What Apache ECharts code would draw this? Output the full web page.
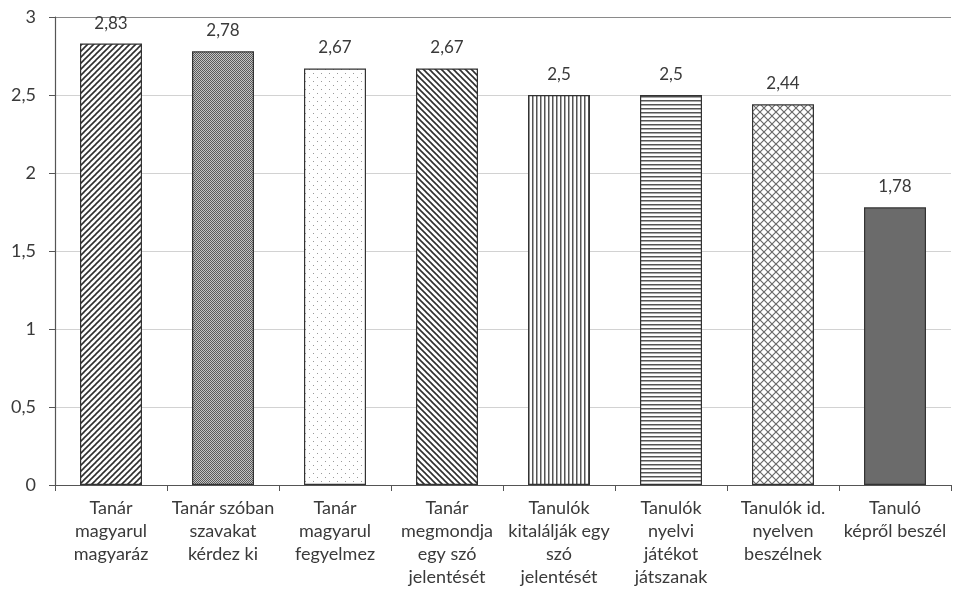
<!DOCTYPE html>
<html><head><meta charset="utf-8">
<script src="https://cdn.jsdelivr.net/npm/echarts@6/dist/echarts.min.js"></script>
<style>html,body{margin:0;padding:0;background:#fff}#c{width:954px;height:598px}</style>
</head><body><div id="c"></div>
<script>
const categories = [
  "Tanár\nmagyarul\nmagyaráz",
  "Tanár szóban\nszavakat\nkérdez ki",
  "Tanár\nmagyarul\nfegyelmez",
  "Tanár\nmegmondja\negy szó\njelentését",
  "Tanulók\nkitalálják egy\nszó\njelentését",
  "Tanulók\nnyelvi\njátékot\njátszanak",
  "Tanulók id.\nnyelven\nbeszélnek",
  "Tanuló\nképről beszél"
];
const values = [2.83, 2.78, 2.67, 2.67, 2.5, 2.5, 2.44, 1.78];
const yTicks = [0, 0.5, 1, 1.5, 2, 2.5, 3];

function tile(w, h, draw) {
  const c = document.createElement('canvas');
  c.width = w; c.height = h;
  const g = c.getContext('2d');
  g.fillStyle = '#fff'; g.fillRect(0, 0, w, h);
  draw(g);
  return { image: c, repeat: 'repeat' };
}
function diag(dir) {
  return tile(6, 6, g => {
    g.strokeStyle = '#2e2e2e'; g.lineWidth = 1.6;
    for (let k = -1; k <= 1; k++) {
      g.beginPath();
      if (dir > 0) { g.moveTo(-1 + k * 6, 7); g.lineTo(7 + k * 6, -1); }
      else { g.moveTo(-1 + k * 6, -1); g.lineTo(7 + k * 6, 7); }
      g.stroke();
    }
  });
}
const patterns = [
  diag(1),
  tile(2, 2, g => { g.fillStyle = '#5a5a5a'; g.fillRect(0, 0, 1, 1); g.fillRect(1, 1, 1, 1); g.fillStyle = '#c4c4c4'; g.fillRect(1, 0, 1, 1); g.fillRect(0, 1, 1, 1); }),
  tile(8, 8, g => { g.fillStyle = '#9a9a9a'; g.fillRect(1, 1, 1, 1); g.fillRect(5, 5, 1, 1); }),
  diag(-1),
  tile(4, 4, g => { g.fillStyle = '#555'; g.fillRect(0, 0, 1.5, 4); }),
  tile(4, 4, g => { g.fillStyle = '#555'; g.fillRect(0, 0, 4, 1.5); }),
  tile(8, 8, g => {
    g.strokeStyle = '#6a6a6a'; g.lineWidth = 1.2;
    g.beginPath(); g.moveTo(0, 0); g.lineTo(8, 8); g.moveTo(8, 0); g.lineTo(0, 8); g.stroke();
    g.beginPath(); g.moveTo(-4, 4); g.lineTo(4, 12); g.moveTo(4, -4); g.lineTo(12, 4);
    g.moveTo(-4, 4); g.lineTo(4, -4); g.moveTo(4, 12); g.lineTo(12, 4); g.stroke();
  }),
  '#6b6b6b'
];

const chart = echarts.init(document.getElementById('c'), null, { renderer: 'canvas' });
const font = 'Lato, "Open Sans", sans-serif';
chart.setOption({
  animation: false,
  grid: { left: 55, right: 3, top: 17, bottom: 113, containLabel: false },
  xAxis: {
    type: 'category', data: categories,
    axisLine: { lineStyle: { color: '#555', width: 1.2 } },
    axisTick: { show: true, length: 6, lineStyle: { color: '#555' } },
    axisLabel: { interval: 0, margin: 12, color: '#3a3a3a', fontSize: 18, lineHeight: 23, fontFamily: font }
  },
  yAxis: {
    type: 'value', min: 0, max: 3, interval: 0.5,
    axisLine: { show: true, lineStyle: { color: '#555', width: 1.2 } },
    axisTick: { show: true, length: 6, lineStyle: { color: '#555' } },
    splitLine: { lineStyle: { color: ['#d2d2d2','#d2d2d2','#d2d2d2','#d2d2d2','#d2d2d2','#d2d2d2','#8a8a8a'], width: 1.2 } },
    axisLabel: { margin: 19, color: '#3a3a3a', fontSize: 18, fontFamily: font,
      formatter: v => String(v).replace('.', ',') }
  },
  series: [{
    type: 'bar', barWidth: 62,
    data: values.map((v, i) => ({ value: v, itemStyle: { color: patterns[i] } })),
    itemStyle: { borderColor: '#333', borderWidth: 1.2 },
    label: { show: true, position: 'top', distance: 12, color: '#3a3a3a', fontSize: 17, fontFamily: font,
      formatter: p => String(p.value).replace('.', ',') }
  }]
});
</script></body></html>
